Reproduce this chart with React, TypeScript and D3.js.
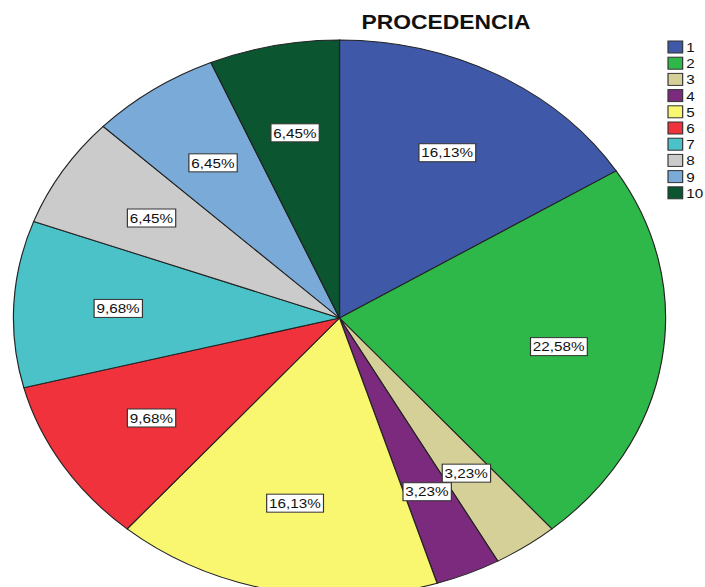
import { useRef, useEffect } from 'react';
import * as d3 from 'd3';

const categories = ["1", "2", "3", "4", "5", "6", "7", "8", "9", "10"];
const counts = [5, 7, 1, 1, 5, 3, 3, 2, 2, 2];
const percentLabels = ["16,13%", "22,58%", "3,23%", "3,23%", "16,13%", "9,68%", "9,68%", "6,45%", "6,45%", "6,45%"];
const sliceColors = ["#3f58a8", "#2fb84a", "#d5cf98", "#7b2a7d", "#f9f770", "#ef323c", "#4ac2c8", "#cbcbcb", "#7aaad8", "#0b5530"];
const title = "PROCEDENCIA";

export default function App() {
  const svgRef = useRef<SVGSVGElement>(null);

  useEffect(() => {
    const svg = d3.select(svgRef.current);
    svg.selectAll("*").remove();

    const W = 705, H = 587;
    const sx = 1.173; // the original is stretched horizontally
    const radius = 278;
    const cx = 339.5 / sx, cy = 318;

    const root = svg.append("g").attr("transform", `scale(${sx},1)`);

    const data = categories.map((c, i) => ({ cat: c, value: counts[i], label: percentLabels[i], color: sliceColors[i] }));

    const pie = d3.pie<any>().value(d => d.value).sort(null);
    const arcs = pie(data);
    const arc = d3.arc<any>().innerRadius(0).outerRadius(radius);
    const labelArc = d3.arc<any>().innerRadius(radius * 0.68).outerRadius(radius * 0.68);

    const g = root.append("g").attr("transform", `translate(${cx},${cy})`);

    g.selectAll("path.slice")
      .data(arcs)
      .enter()
      .append("path")
      .attr("class", "slice")
      .attr("d", arc)
      .attr("fill", d => d.data.color)
      .attr("stroke", "#222")
      .attr("stroke-width", 1);

    // value labels in white boxes
    const lbl = g.selectAll("g.lbl")
      .data(arcs)
      .enter()
      .append("g")
      .attr("class", "lbl")
      .attr("transform", d => `translate(${labelArc.centroid(d)})`);

    lbl.append("rect");
    lbl.append("text")
      .attr("text-anchor", "middle")
      .attr("dy", "0.36em")
      .style("font-family", "Arial, 'Liberation Sans', sans-serif")
      .style("font-size", "13px")
      .style("fill", "#111")
      .text(d => d.data.label);

    lbl.each(function () {
      const gg = d3.select(this);
      const bb = (gg.select("text").node() as SVGTextElement).getBBox();
      gg.select("rect")
        .attr("x", bb.x - 2)
        .attr("y", -9)
        .attr("width", bb.width + 4)
        .attr("height", 18)
        .attr("fill", "#fff")
        .attr("stroke", "#333")
        .attr("stroke-width", 1);
    });

    // title
    root.append("text")
      .attr("x", 446 / sx)
      .attr("y", 29)
      .attr("text-anchor", "middle")
      .style("font-family", "Arial, 'Liberation Sans', sans-serif")
      .style("font-weight", "bold")
      .style("font-size", "19.5px")
      .style("fill", "#111")
      .text(title);

    // legend
    const legend = root.append("g").attr("transform", `translate(${668 / sx},41)`);
    const rowH = 16.2;
    const items = legend.selectAll("g.item")
      .data(data)
      .enter()
      .append("g")
      .attr("class", "item")
      .attr("transform", (d, i) => `translate(0,${i * rowH})`);

    items.append("rect")
      .attr("width", 12.5)
      .attr("height", 12)
      .attr("fill", d => d.color)
      .attr("stroke", "#333")
      .attr("stroke-width", 1);

    items.append("text")
      .attr("x", 15.5)
      .attr("y", 11)
      .style("font-family", "Arial, 'Liberation Sans', sans-serif")
      .style("font-size", "13px")
      .style("fill", "#111")
      .text(d => d.cat);

    svg.attr("width", W).attr("height", H);
  }, []);

  return (
    <svg
      ref={svgRef}
      width={705}
      height={587}
      style={{ position: "absolute", left: 0, top: 0, background: "#fff" }}
    />
  );
}
